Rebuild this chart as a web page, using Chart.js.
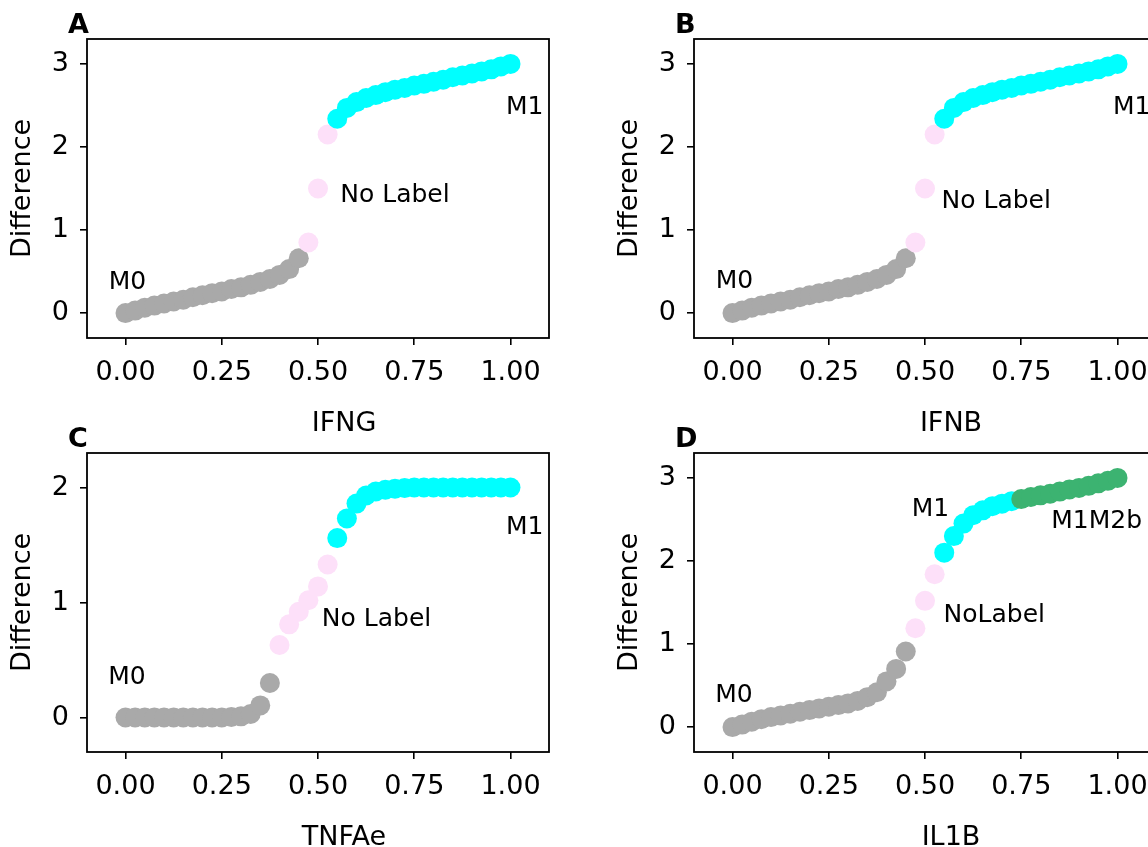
<!DOCTYPE html>
<html>
<head>
<meta charset="utf-8">
<script src="https://cdn.jsdelivr.net/npm/chart.js@4/dist/chart.umd.min.js"></script>
<style>
html, body { margin: 0; padding: 0; background: #fff; overflow: hidden; width: 1148px; height: 847px; }
.panel { position: absolute; }
canvas { display: block; }
</style>
</head>
<body>
<div class="panel" style="left:0px;top:0px"><canvas id="cA" width="574" height="434"></canvas></div>
<div class="panel" style="left:607px;top:0px"><canvas id="cB" width="574" height="434"></canvas></div>
<div class="panel" style="left:0px;top:414px"><canvas id="cC" width="574" height="434"></canvas></div>
<div class="panel" style="left:607px;top:414px"><canvas id="cD" width="574" height="434"></canvas></div>
<script>
// ---------------- data ----------------
const xGrid = [0.000, 0.025, 0.050, 0.075, 0.100, 0.125, 0.150, 0.175, 0.200, 0.225,
               0.250, 0.275, 0.300, 0.325, 0.350, 0.375, 0.400, 0.425, 0.450, 0.475,
               0.500, 0.525, 0.550, 0.575, 0.600, 0.625, 0.650, 0.675, 0.700, 0.725,
               0.750, 0.775, 0.800, 0.825, 0.850, 0.875, 0.900, 0.925, 0.950, 0.975, 1.000];

const xTickValues = [0, 0.25, 0.5, 0.75, 1.0];
const xTickLabels = ['0.00', '0.25', '0.50', '0.75', '1.00'];
const yTicks3 = [0, 1, 2, 3];
const yTicks2 = [0, 1, 2];
const yTitle = 'Difference';

// Panel A (IFNG)
const ifngValues = [0, 0.03, 0.065, 0.09, 0.115, 0.14, 0.16, 0.19, 0.215, 0.24,
                    0.26, 0.29, 0.31, 0.34, 0.375, 0.41, 0.46, 0.53, 0.66,
                    0.85, 1.5, 2.15,
                    2.34, 2.47, 2.54, 2.59, 2.625, 2.66, 2.69, 2.71, 2.74, 2.76,
                    2.785, 2.81, 2.84, 2.86, 2.885, 2.91, 2.935, 2.97, 3.0];
const ifngGroups = ['M0', 'NoLabel', 'M1'];
const ifngGroupSizes = [19, 3, 19];
const ifngLabels = ['M0', 'No Label', 'M1'];
const ifngLabelX = [0.005, 0.70, 1.037];
const ifngLabelY = [0.29, 1.34, 2.40];

// Panel B (IFNB)
const ifnbValues = [0, 0.03, 0.065, 0.09, 0.115, 0.14, 0.16, 0.19, 0.215, 0.24,
                    0.26, 0.29, 0.31, 0.34, 0.375, 0.41, 0.46, 0.53, 0.66,
                    0.85, 1.5, 2.15,
                    2.34, 2.47, 2.54, 2.59, 2.625, 2.66, 2.69, 2.71, 2.74, 2.76,
                    2.785, 2.81, 2.84, 2.86, 2.885, 2.91, 2.935, 2.97, 3.0];
const ifnbGroups = ['M0', 'NoLabel', 'M1'];
const ifnbGroupSizes = [19, 3, 19];
const ifnbLabels = ['M0', 'No Label', 'M1'];
const ifnbLabelX = [0.005, 0.685, 1.037];
const ifnbLabelY = [0.30, 1.27, 2.40];

// Panel C (TNFAe)
const tnfaValues = [0, 0, 0, 0, 0, 0, 0, 0, 0, 0,
                    0, 0.005, 0.01, 0.03, 0.105, 0.30,
                    0.63, 0.81, 0.92, 1.02, 1.14, 1.33,
                    1.56, 1.73, 1.86, 1.93, 1.965, 1.98, 1.99, 1.995, 2.0, 2.0,
                    2.0, 2.0, 2.0, 2.0, 2.0, 2.0, 2.0, 2.0, 2.0];
const tnfaGroups = ['M0', 'NoLabel', 'M1'];
const tnfaGroupSizes = [16, 6, 19];
const tnfaLabels = ['M0', 'No Label', 'M1'];
const tnfaLabelX = [0.004, 0.652, 1.037];
const tnfaLabelY = [0.29, 0.80, 1.60];

// Panel D (IL1B)
const il1bValues = [0, 0.03, 0.065, 0.095, 0.12, 0.14, 0.16, 0.185, 0.205, 0.225,
                    0.245, 0.265, 0.285, 0.315, 0.36, 0.42, 0.55, 0.70, 0.91,
                    1.19, 1.52, 1.84,
                    2.10, 2.30, 2.45, 2.55, 2.61, 2.66, 2.69, 2.72,
                    2.745, 2.77, 2.79, 2.81, 2.835, 2.86, 2.88, 2.905, 2.935, 2.965, 3.0];
const il1bGroups = ['M0', 'NoLabel', 'M1', 'M1M2b'];
const il1bGroupSizes = [19, 3, 8, 11];
const il1bLabels = ['M0', 'NoLabel', 'M1', 'M1M2b'];
const il1bLabelX = [0.004, 0.68, 0.514, 0.946];
const il1bLabelY = [0.30, 1.26, 2.54, 2.40];

const groupColors = { M0: '#a9a9a9', NoLabel: '#fde0f9', M1: '#00ffff', M1M2b: '#3cb371' };

// ---------------- drawing ----------------
const FONT = '"DejaVu Sans", Verdana, sans-serif';
const FS_TEXT = 25;   // in-plot annotations
const FS_TICK = 27;   // tick labels
const FS_TITLE = 27;  // axis titles

const framePlugin = {
  id: 'frame',
  afterDraw(chart) {
    const { ctx, chartArea: a } = chart;
    ctx.save();
    ctx.strokeStyle = '#000';
    ctx.lineWidth = 1.8;
    ctx.strokeRect(a.left, a.top, a.right - a.left, a.bottom - a.top);
    ctx.restore();
  }
};

const textPlugin = {
  id: 'texts',
  afterDatasetsDraw(chart, args, opts) {
    const { ctx, scales, chartArea: a } = chart;
    ctx.save();
    ctx.fillStyle = '#000';
    ctx.font = FS_TEXT + 'px ' + FONT;
    ctx.textAlign = 'center';
    ctx.textBaseline = 'alphabetic';
    opts.texts.forEach((t, i) => {
      ctx.fillText(t, scales.x.getPixelForValue(opts.xs[i]), scales.y.getPixelForValue(opts.ys[i]));
    });
    // x-axis title (offset to the right as in the original figure)
    ctx.font = FS_TITLE + 'px ' + FONT;
    ctx.textAlign = 'center';
    ctx.textBaseline = 'alphabetic';
    ctx.fillText(opts.xTitle, (a.left + a.right) / 2 + 26, a.bottom + 93);
    // panel letter
    ctx.font = 'bold 27px ' + FONT;
    ctx.textAlign = 'left';
    ctx.fillText(opts.letter, 68, a.top - 6);
    ctx.restore();
  }
};

function makePanel(id, p) {
  const datasets = [];
  let start = 0;
  p.groupSizes.forEach((n, gi) => {
    const pts = [];
    for (let i = start; i < start + n; i++) pts.push({ x: xGrid[i], y: p.values[i] });
    start += n;
    const c = groupColors[p.groups[gi]];
    datasets.push({
      label: p.groups[gi], data: pts, order: -gi,
      backgroundColor: c, pointBackgroundColor: c,
      pointRadius: 10, pointHoverRadius: 10, pointBorderWidth: 0, borderWidth: 0,
      showLine: false
    });
  });

  new Chart(document.getElementById(id), {
    type: 'scatter',
    data: { datasets },
    options: {
      responsive: false, animation: false, devicePixelRatio: 1,
      layout: { padding: { left: 0, top: 39, right: 25, bottom: 0 } },
      events: [],
      plugins: {
        legend: { display: false }, tooltip: { enabled: false },
        texts: { texts: p.labels, xs: p.labelX, ys: p.labelY, letter: p.letter, xTitle: p.xTitle }
      },
      scales: {
        x: {
          type: 'linear', min: -0.1, max: 1.1,
          afterBuildTicks: s => { s.ticks = xTickValues.map(v => ({ value: v })); },
          afterFit: s => { s.height = 96; },
          ticks: { callback: (v, i) => xTickLabels[i], font: { family: FONT, size: FS_TICK, lineHeight: 1.2 }, color: '#000', padding: 12, maxRotation: 0, autoSkip: false },
          grid: { drawOnChartArea: false, drawTicks: true, tickLength: 7, color: '#000', lineWidth: 1.6 },
          border: { display: false },
          title: { display: false }
        },
        y: {
          type: 'linear', min: p.yMin, max: p.yMax,
          afterBuildTicks: s => { s.ticks = p.yTicks.map(v => ({ value: v })); },
          afterFit: s => { s.width = 87; },
          ticks: { callback: v => String(v), font: { family: FONT, size: FS_TICK }, color: '#000', padding: 11, autoSkip: false },
          grid: { drawOnChartArea: false, drawTicks: true, tickLength: 7, color: '#000', lineWidth: 1.6 },
          border: { display: false },
          title: { display: true, text: yTitle, font: { family: FONT, size: FS_TITLE, lineHeight: 1.2 }, color: '#000', padding: { top: 7, bottom: 0 } }
        }
      }
    },
    plugins: [framePlugin, textPlugin]
  });
}

makePanel('cA', { values: ifngValues, groups: ifngGroups, groupSizes: ifngGroupSizes, labels: ifngLabels, labelX: ifngLabelX, labelY: ifngLabelY, xTitle: 'IFNG', letter: 'A', yMin: -0.3, yMax: 3.3, yTicks: yTicks3 });
makePanel('cB', { values: ifnbValues, groups: ifnbGroups, groupSizes: ifnbGroupSizes, labels: ifnbLabels, labelX: ifnbLabelX, labelY: ifnbLabelY, xTitle: 'IFNB', letter: 'B', yMin: -0.3, yMax: 3.3, yTicks: yTicks3 });
makePanel('cC', { values: tnfaValues, groups: tnfaGroups, groupSizes: tnfaGroupSizes, labels: tnfaLabels, labelX: tnfaLabelX, labelY: tnfaLabelY, xTitle: 'TNFAe', letter: 'C', yMin: -0.3, yMax: 2.3, yTicks: yTicks2 });
makePanel('cD', { values: il1bValues, groups: il1bGroups, groupSizes: il1bGroupSizes, labels: il1bLabels, labelX: il1bLabelX, labelY: il1bLabelY, xTitle: 'IL1B', letter: 'D', yMin: -0.3, yMax: 3.3, yTicks: yTicks3 });
</script>
</body>
</html>
